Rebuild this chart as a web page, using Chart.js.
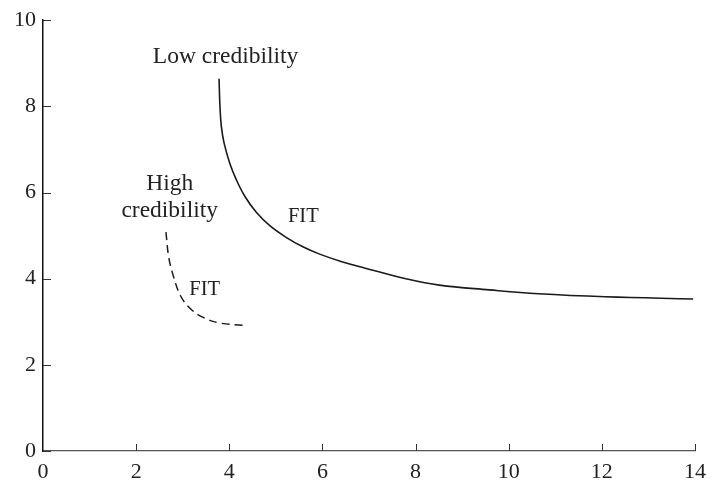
<!DOCTYPE html>
<html>
<head>
<meta charset="utf-8">
<script src="https://cdn.jsdelivr.net/npm/chart.js@4.4.0/dist/chart.umd.min.js"></script>
<style>
html,body{margin:0;padding:0;background:#fff;}
#wrap{width:714px;height:482px;position:relative;}
</style>
</head>
<body>
<div id="wrap"><canvas id="c" width="714" height="482"></canvas></div>
<script>
// Data
const xTicks = [0, 2, 4, 6, 8, 10, 12, 14];
const yTicks = [0, 2, 4, 6, 8, 10];
const lowX  = [3.78, 3.80, 3.83, 3.89, 4.01, 4.15, 4.33, 4.58, 4.87, 5.22, 5.58, 5.94, 6.40, 6.90, 7.79, 8.51, 9.58, 10.64, 12.07, 13.96];
const lowY  = [8.64, 7.99, 7.53, 7.14, 6.68, 6.30, 5.92, 5.54, 5.23, 4.96, 4.74, 4.57, 4.40, 4.25, 4.00, 3.85, 3.74, 3.65, 3.58, 3.53];
const highX = [2.64, 2.70, 2.80, 2.95, 3.15, 3.44, 3.80, 4.29];
const highY = [5.08, 4.50, 4.06, 3.61, 3.32, 3.10, 2.97, 2.92];
const labelTexts = ["Low credibility", "High", "credibility", "FIT", "FIT"];
const labelX = [3.92, 2.72, 2.72, 5.59, 3.47];
const labelY = [9.14, 6.20, 5.58, 5.44, 3.74];
const labelSize = [23.5, 23.5, 23.5, 20.5, 20.5];

const toPts = (xs, ys) => xs.map((x, i) => ({x: x, y: ys[i]}));

const FONT = "'Liberation Serif', 'DejaVu Serif', serif";

const annotate = {
  id: 'annotate',
  afterDraw(chart) {
    const ctx = chart.ctx;
    const xs = chart.scales.x, ys = chart.scales.y;
    ctx.save();
    ctx.strokeStyle = '#333';
    ctx.lineWidth = 1;
    const yAxisPx = xs.getPixelForValue(0);
    const xAxisPx = ys.getPixelForValue(0);
    ys.ticks.forEach(t => {
      const py = Math.round(ys.getPixelForValue(t.value)) + 0.5;
      ctx.beginPath(); ctx.moveTo(yAxisPx, py); ctx.lineTo(yAxisPx + 8, py); ctx.stroke();
    });
    xs.ticks.forEach(t => {
      if (t.value === 0) return;
      const px = Math.round(xs.getPixelForValue(t.value)) + 0.5;
      ctx.beginPath(); ctx.moveTo(px, xAxisPx); ctx.lineTo(px, xAxisPx - 7); ctx.stroke();
    });
    ctx.fillStyle = '#222';
    ctx.textAlign = 'center';
    ctx.textBaseline = 'middle';
    labelTexts.forEach((s, i) => {
      ctx.font = labelSize[i] + 'px ' + FONT;
      ctx.fillText(s, xs.getPixelForValue(labelX[i]), ys.getPixelForValue(labelY[i]));
    });
    ctx.restore();
  }
};

new Chart(document.getElementById('c'), {
  type: 'line',
  data: {
    datasets: [
      {
        data: toPts(lowX, lowY),
        borderColor: '#1a1a1a',
        borderWidth: 1.6,
        pointRadius: 0,
        tension: 0.4,
        fill: false
      },
      {
        data: toPts(highX, highY),
        borderColor: '#1a1a1a',
        borderWidth: 1.5,
        borderDash: [8, 5],
        pointRadius: 0,
        tension: 0.4,
        fill: false
      }
    ]
  },
  options: {
    responsive: false,
    animation: false,
    events: [],
    layout: { padding: { top: 16, right: 17, left: 0, bottom: 0 } },
    plugins: { legend: { display: false }, tooltip: { enabled: false } },
    scales: {
      x: {
        type: 'linear',
        min: 0, max: 14,
        afterBuildTicks: s => { s.ticks = xTicks.map(v => ({value: v})); },
        afterFit: s => { s.height = 31; },
        grid: { display: true, drawOnChartArea: false, drawTicks: false },
        border: { display: true, color: '#555', width: 1.2 },
        ticks: { padding: 8, color: '#222', font: { family: FONT, size: 22 }, maxRotation: 0, autoSkip: false }
      },
      y: {
        type: 'linear',
        min: 0, max: 10,
        afterBuildTicks: s => { s.ticks = yTicks.map(v => ({value: v})); },
        afterFit: s => { s.width = 43; },
        grid: { display: true, drawOnChartArea: false, drawTicks: false },
        border: { display: true, color: '#111', width: 1.5 },
        ticks: { padding: 7, color: '#222', font: { family: FONT, size: 22 }, autoSkip: false }
      }
    }
  },
  plugins: [annotate]
});
</script>
</body>
</html>
